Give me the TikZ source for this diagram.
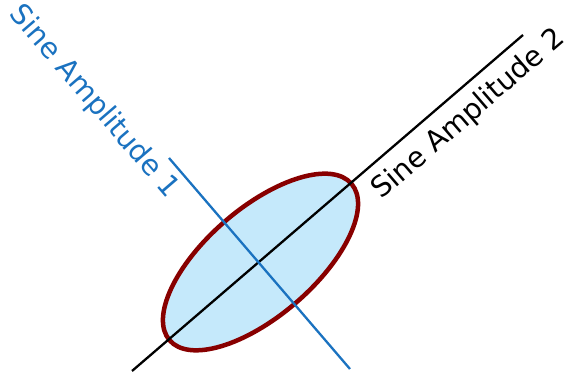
\documentclass[tikz,border=0pt]{standalone}
\usepackage{fontspec}
\setmainfont{DejaVu Sans}
\definecolor{axblue}{HTML}{1A72C0}
\definecolor{ellred}{HTML}{880000}
\definecolor{ellfill}{HTML}{C5E9FB}
\begin{document}
\begin{tikzpicture}[x=1pt,y=1pt,
  axis2/.style={draw=black,line width=2.3pt},
  axis1/.style={draw=axblue,line width=2.3pt},
  lbl/.style={inner sep=0pt,font=\fontsize{28.5}{30}\selectfont}]
\useasboundingbox (0,0) rectangle (566,372);
\filldraw[fill=ellfill,draw=ellred,line width=4.5pt,rotate around={40.7:(260.5,110)}]
  (260.5,110) ellipse [x radius=120,y radius=54];
\coordinate (b1) at (132,1);
\coordinate (b2) at (523,337);
\coordinate (u1) at (169,214);
\coordinate (u2) at (350,3);
\draw[axis2] (b1) -- (b2);
\draw[axis1] (u1) -- (u2);
\node[lbl,text=black,rotate=40.7] (t2) at (469,257.5) {Sine Amplitude 2};
\node[lbl,text=axblue,rotate=-49.3] (t1) at (94,270) {Sine Amplitude 1};
\end{tikzpicture}
\end{document}
